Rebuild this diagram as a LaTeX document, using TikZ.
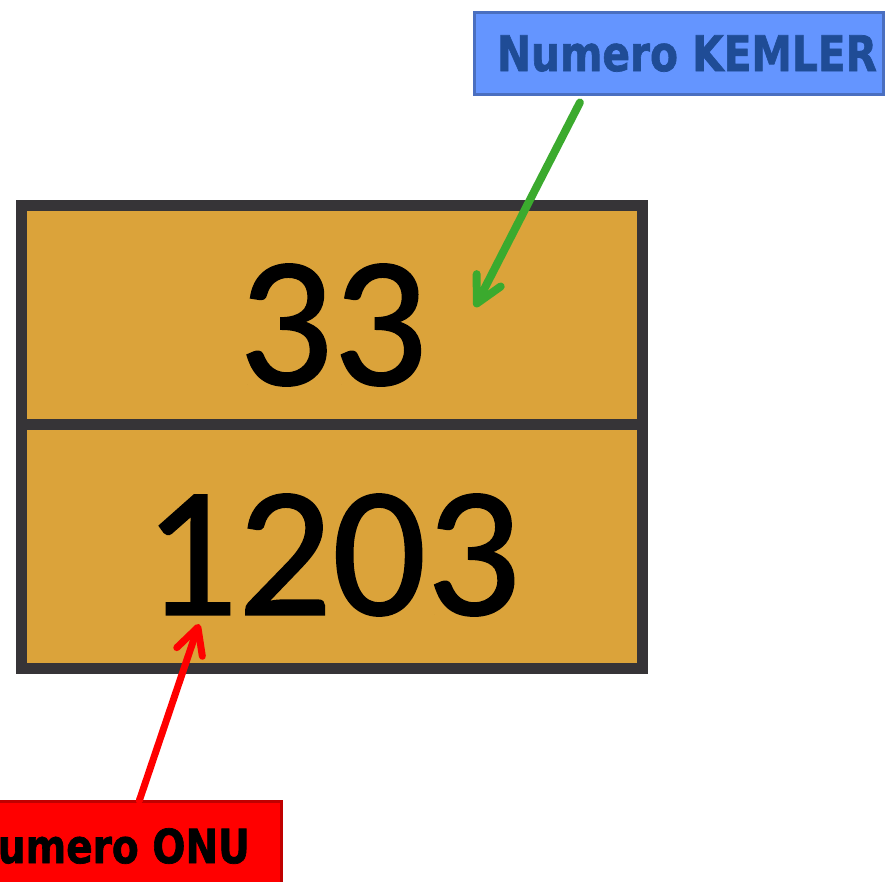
\documentclass[tikz,border=0pt]{standalone}
\usepackage{fontspec}
\usepackage{xcolor}
\usepackage{tikz}
\usetikzlibrary{positioning,arrows.meta}
\newfontfamily\platefont{Carlito}[FakeBold=1]
\newfontfamily\labelfont{DejaVu Sans}[BoldFeatures={FakeBold=1.5}]
\definecolor{plateorange}{HTML}{DBA33A}
\definecolor{plategray}{HTML}{363437}
\definecolor{kemlerfill}{HTML}{6495FF}
\definecolor{kemlerdraw}{HTML}{4A6FC0}
\definecolor{kemlertext}{HTML}{1F4C96}
\definecolor{onudraw}{HTML}{C00000}
\definecolor{arrowgreen}{HTML}{3BAA2E}

\begin{document}
\begin{tikzpicture}[
    x=1pt, y=-1pt,      % one unit = one pixel, y going down
    half/.style = {draw=plategray, fill=plateorange, line width=11pt, minimum width=621pt, inner sep=0pt, outer sep=0pt},
    number/.style = {inner sep=0pt, font=\platefont\fontsize{186}{186}\selectfont},
    kemlerbox/.style = {draw=kemlerdraw, fill=kemlerfill, line width=3.5pt, minimum width=409pt, minimum height=82pt, outer sep=0pt, text=kemlertext, font=\labelfont\bfseries\fontsize{49}{49}\selectfont},
    onubox/.style = {draw=onudraw, fill=red, line width=3pt, minimum width=348pt, minimum height=89pt, outer sep=0pt, text=black, font=\labelfont\bfseries\fontsize{47}{47}\selectfont},
    pointer/.style = {line width=8pt, line cap=round, -{Straight Barb[length=26pt, width=27pt, round]}}
  ]
    \useasboundingbox (0,0) rectangle (889,881);
    \clip (0,0) rectangle (889,881);

    % the plate
    \node[half, minimum height=219pt] (upper) at (332,315) {};
    \node[half, minimum height=244pt, below=0pt of upper] (lower) {};
    \node[number] (kemler) at (333,325) {33};
    \node[number] (onu) at (332,555) {1203};

    % labels
    \node[kemlerbox] (kemlerlabel) at (679,53.5) {\hspace*{16pt}\scalebox{0.83}[1]{Numero KEMLER}};
    \node[onubox] (onulabel) at (107.5,846) {\scalebox{0.83}[1]{Numero ONU}};

    \coordinate (kemlertip) at (475,307);
    \coordinate (onutip) at (199,624);

    \draw[pointer, arrowgreen, shorten <=9pt] ([xshift=-95pt]kemlerlabel.south) -- (kemlertip);
    \draw[pointer, red, line width=7pt, shorten <=1pt] ([xshift=-142.5pt]onulabel.north east) -- (onutip);
  \end{tikzpicture}
\end{document}
